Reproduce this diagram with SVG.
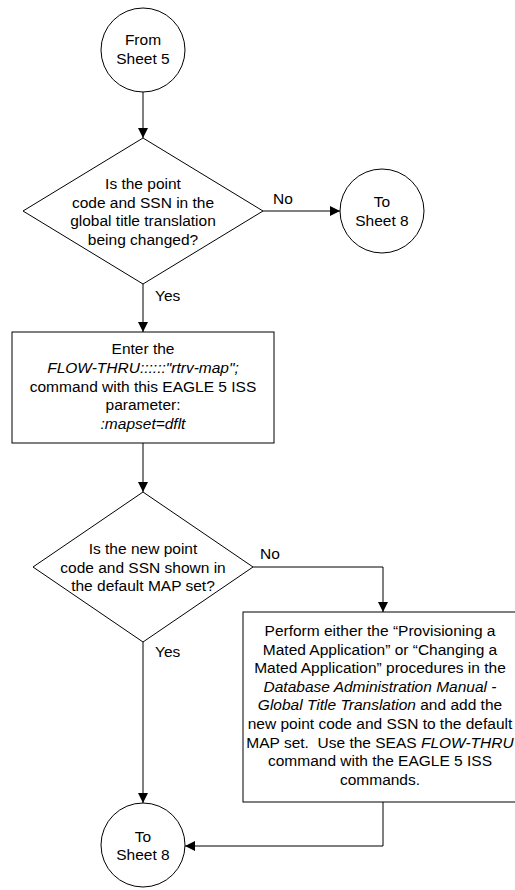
<svg xmlns="http://www.w3.org/2000/svg" width="515" height="890" viewBox="0 0 515 890">
<style>
  .s{fill:#fff;stroke:#000;stroke-width:1}
  .t{font-family:"Liberation Sans",Arial,sans-serif;font-size:15.5px;fill:#000;text-anchor:middle}
  .l{font-family:"Liberation Sans",Arial,sans-serif;font-size:15.5px;fill:#000}
  .i{font-style:italic}
  .c{fill:none;stroke:#000;stroke-width:1}
</style>
<defs>
  <marker id="a" markerWidth="10" markerHeight="10" refX="10" refY="5" orient="auto" markerUnits="userSpaceOnUse">
    <path d="M0,0 L10,5 L0,10 Z" fill="#000"/>
  </marker>
</defs>
<g id="connectors">
  <path class="c" d="M143,92 V138" marker-end="url(#a)"/>
  <path class="c" d="M263,211 H340" marker-end="url(#a)"/>
  <path class="c" d="M143,284 V332" marker-end="url(#a)"/>
  <path class="c" d="M143,443 V492" marker-end="url(#a)"/>
  <path class="c" d="M253,567 H383 V612" marker-end="url(#a)"/>
  <path class="c" d="M143,642 V803" marker-end="url(#a)"/>
  <path class="c" d="M383,802 V846 H185" marker-end="url(#a)"/>
  <text class="l" x="273" y="204">No</text>
  <text class="l" x="155" y="301">Yes</text>
  <text class="l" x="260" y="559">No</text>
  <text class="l" x="155" y="657">Yes</text>
</g>
<g id="from5">
  <circle class="s" cx="143" cy="50" r="42"/>
  <text class="t" x="143" y="45">From</text>
  <text class="t" x="143" y="64">Sheet 5</text>
</g>
<g id="dec1">
  <polygon class="s" points="143,138 263,211 143,284 23,211"/>
  <text class="t" x="143" y="189">Is the point</text>
  <text class="t" x="143" y="207.5">code and SSN in the</text>
  <text class="t" x="143" y="226">global title translation</text>
  <text class="t" x="143" y="244.5">being changed?</text>
</g>
<g id="to8a">
  <circle class="s" cx="382" cy="211" r="42"/>
  <text class="t" x="382" y="207">To</text>
  <text class="t" x="382" y="226">Sheet 8</text>
</g>
<g id="box1">
  <rect class="s" x="12" y="332" width="262" height="111"/>
  <text class="t" x="143" y="354">Enter the</text>
  <text class="t i" x="143" y="373">FLOW-THRU::::::"rtrv-map";</text>
  <text class="t" x="143" y="391.5">command with this EAGLE 5 ISS</text>
  <text class="t" x="143" y="410">parameter:</text>
  <text class="t i" x="143" y="429">:mapset=dflt</text>
</g>
<g id="dec2">
  <polygon class="s" points="143,492 253,567 143,642 33,567"/>
  <text class="t" x="143" y="554">Is the new point</text>
  <text class="t" x="143" y="572.5">code and SSN shown in</text>
  <text class="t" x="143" y="591">the default MAP set?</text>
</g>
<g id="box2">
  <rect class="s" x="243" y="612" width="280" height="190"/>
  <text class="t" x="380" y="636">Perform either the “Provisioning a</text>
  <text class="t" x="380" y="654.6">Mated Application” or “Changing a</text>
  <text class="t" x="380" y="673.2">Mated Application” procedures in the</text>
  <text class="t i" x="380" y="691.8">Database Administration Manual -</text>
  <text class="t" x="380" y="710.4"><tspan class="i">Global Title Translation</tspan> and add the</text>
  <text class="t" x="380" y="729">new point code and SSN to the default</text>
  <text class="t" x="380" y="747.6">MAP set.&#160; Use the SEAS <tspan class="i">FLOW-THRU</tspan></text>
  <text class="t" x="380" y="766.2">command with the EAGLE 5 ISS</text>
  <text class="t" x="380" y="784.8">commands.</text>
</g>
<g id="to8b">
  <circle class="s" cx="143" cy="845" r="42"/>
  <text class="t" x="143" y="842">To</text>
  <text class="t" x="143" y="860">Sheet 8</text>
</g>
</svg>
